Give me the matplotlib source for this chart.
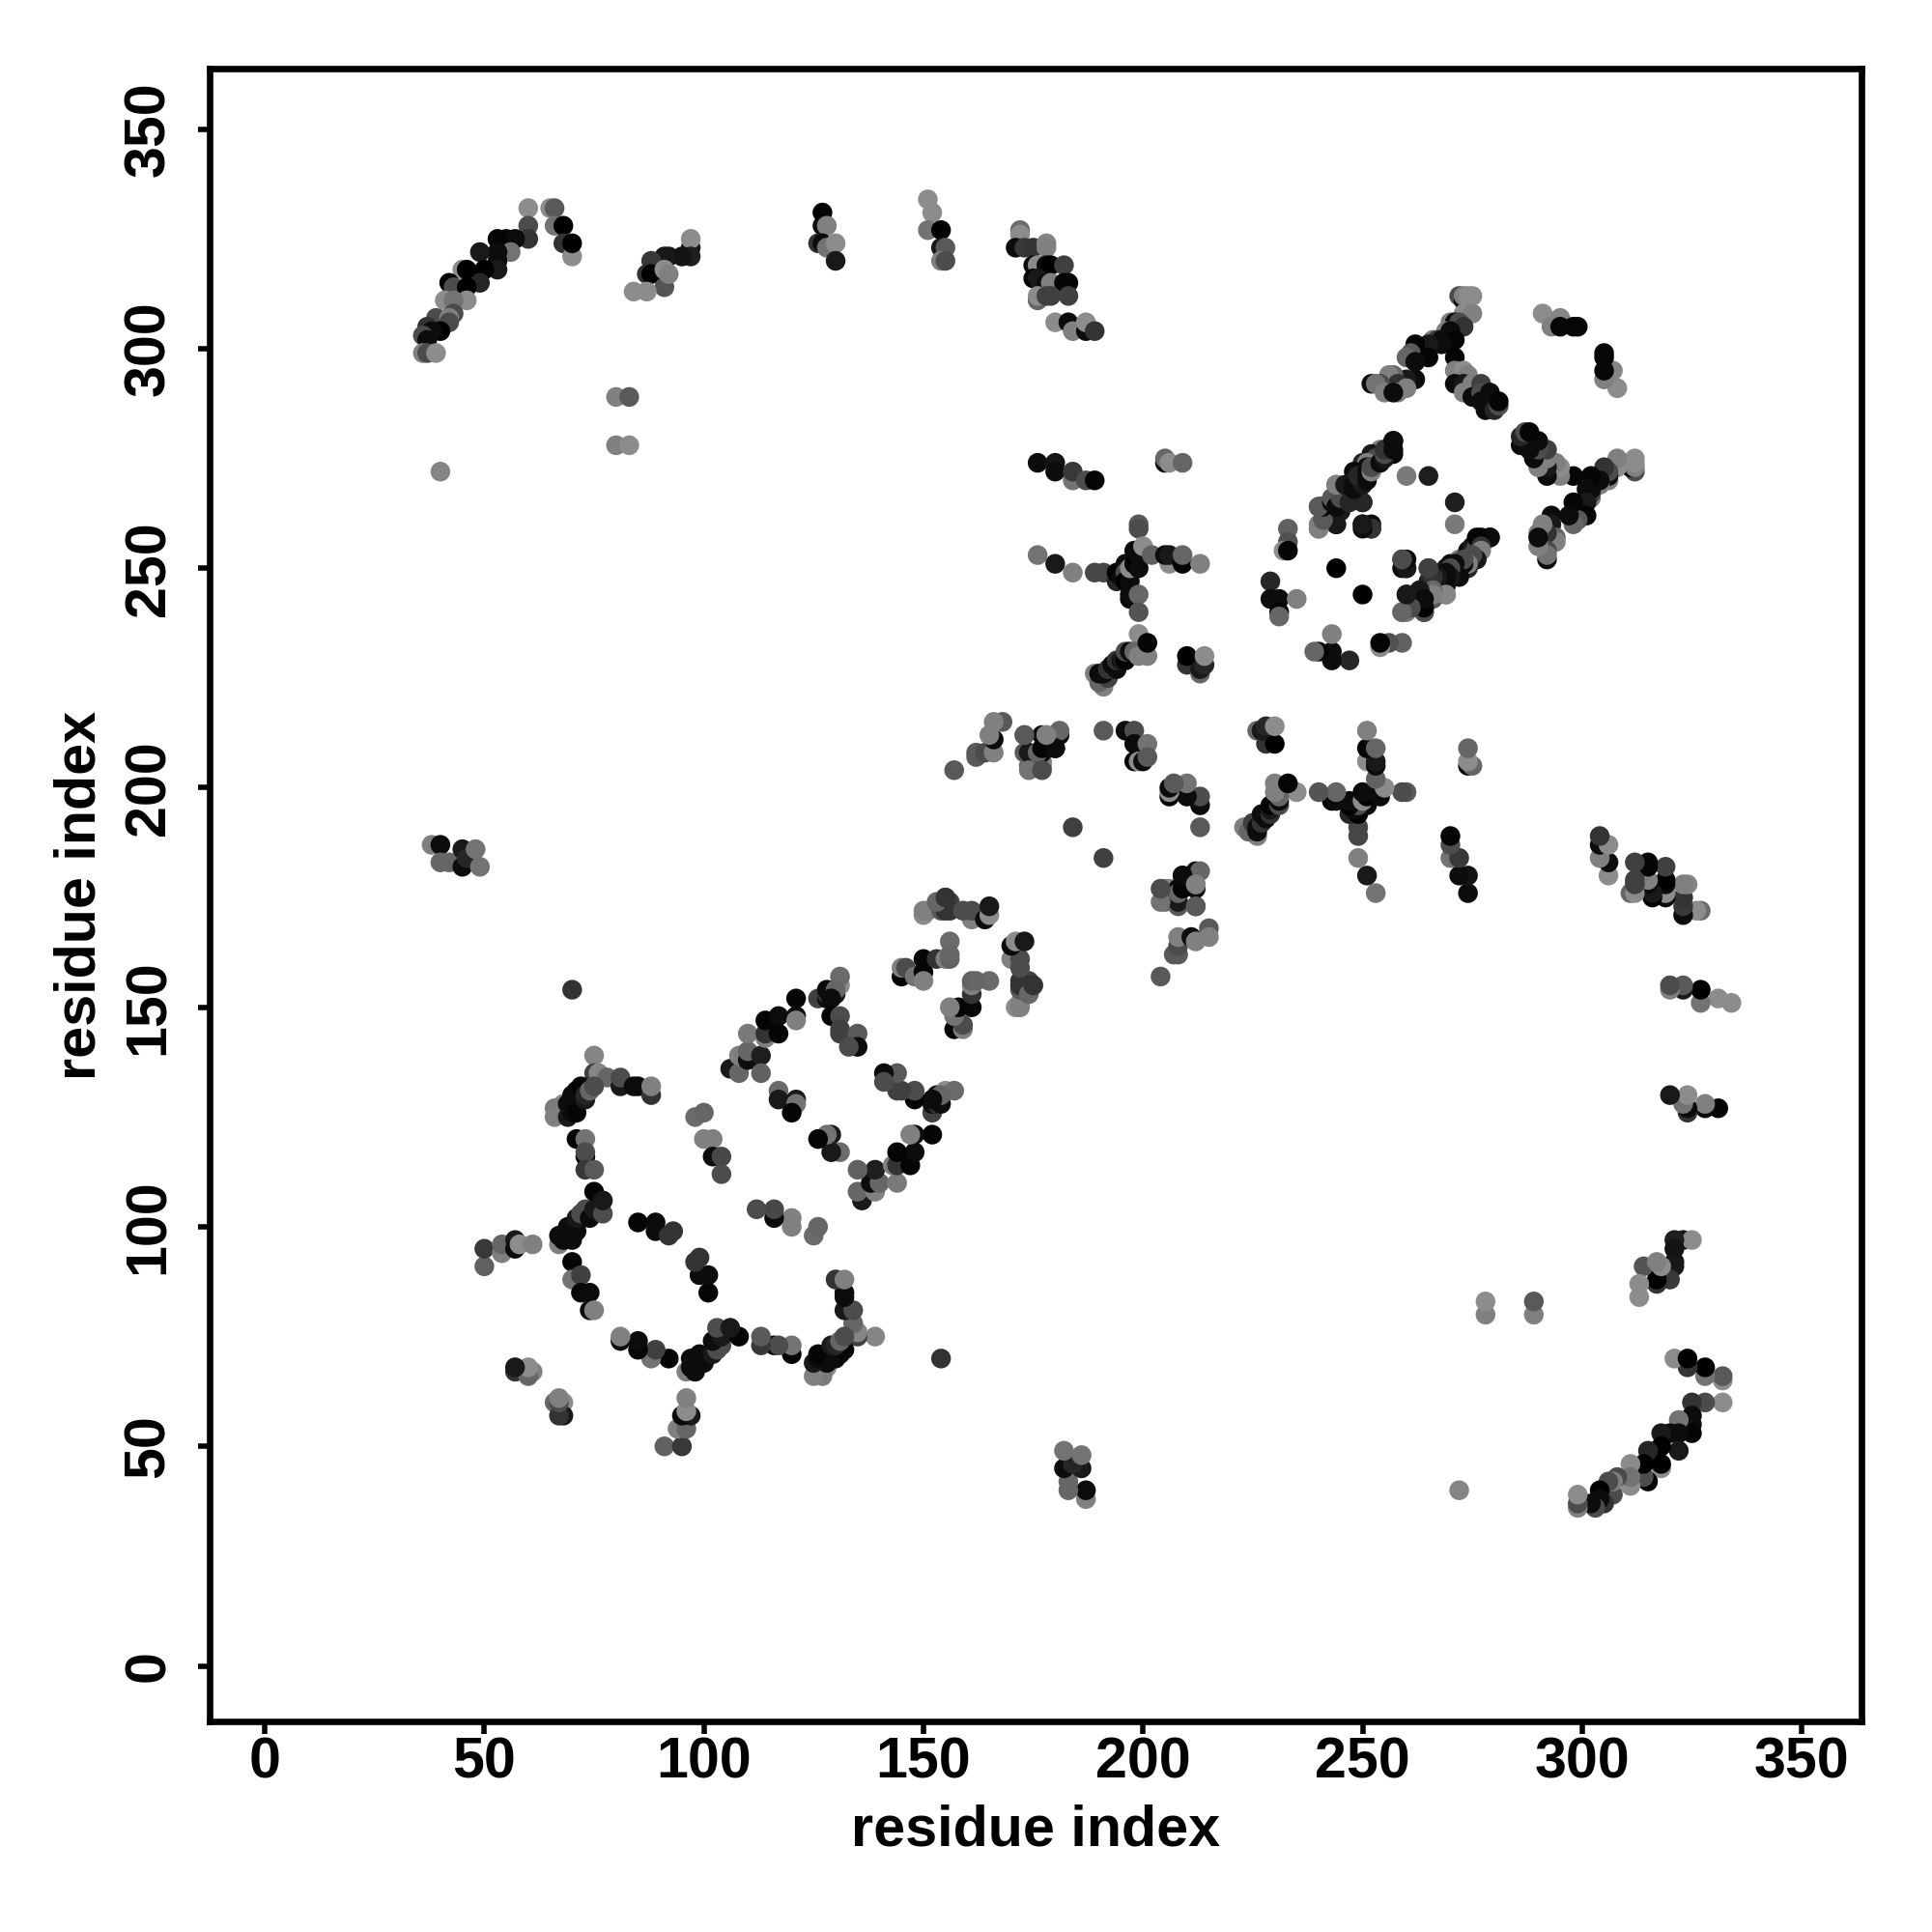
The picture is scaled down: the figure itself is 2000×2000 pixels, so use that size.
import numpy as np
import matplotlib
matplotlib.use('Agg')
import matplotlib.pyplot as plt

plt.rcParams['font.family'] = ['Liberation Sans', 'DejaVu Sans']
plt.rcParams['font.weight'] = 'bold'

# contacts as (residue i, residue j, grey level), only i < j, the map is symmetric
arc_n = [(60, 332, .55), (60, 328, .3), (60, 325, .2), (65, 332, .55), (66, 332, .35), (66, 328, .45),
         (68, 328, 0), (68, 324, .2), (70, 321, .55), (70, 324, 0), (57, 325, .05), (55, 325, .05),
         (53, 325, .02), (56, 322, .45), (53, 322, .05), (49, 322, .1), (53, 320, .05), (53, 318, .1),
         (45, 318, .55), (50, 318, 0), (46, 318, 0), (49, 315, .15), (42, 315, 0), (43, 314, .3),
         (46, 314, 0), (46, 311, .55), (41, 311, .55), (43, 311, .45), (43, 308, .3), (39, 307, .3),
         (42, 307, .5), (42, 306, .3), (40, 304, 0), (37, 305, .2), (38, 304, .05), (36, 303, .3),
         (37, 302, .05), (36, 299, .5), (37, 299, .3), (39, 299, .55)]
arc_b = [(97, 323, .1), (97, 325, .55), (97, 321, .12), (95, 321, .08), (92, 321, .08), (91, 321, .1),
         (88, 320, .22), (87, 317, .2), (88, 317, 0), (91, 314, .33), (91, 318, .55), (92, 317, .5),
         (87, 313, .55), (84, 313, .55)]
pairs_80 = [(80, 289, .5), (83, 289, .35), (80, 278, .5), (83, 278, .55), (40, 272, .52)]
arc_127 = [(127, 331, .02), (127, 328, .05), (128, 328, .5), (126, 324, .2), (127, 324, .05),
           (128, 323, .45), (130, 324, .55), (130, 320, .1)]
arc_151 = [(151, 334, .55), (152, 331, .55), (151, 327, .45), (154, 327, 0), (154, 323, .1),
           (155, 323, .35), (154, 320, .5), (155, 320, .3)]
arc_c = [(172, 327, .42), (172, 326, .55), (171, 323, .05), (173, 323, .22), (175, 323, .2), (178, 324, .52),
         (178, 323, .5), (175, 319, .05), (176, 319, .55), (178, 319, .05), (179, 319, 0), (182, 319, .25),
         (175, 316, 0), (176, 316, .1), (178, 315, .05), (179, 315, .5), (182, 315, .02), (183, 315, .02),
         (176, 311, .4), (176, 312, .55), (178, 312, .25), (179, 312, .25), (183, 312, .25), (180, 306, .55),
         (183, 306, .05), (184, 304, .5), (187, 304, .05), (187, 306, .55), (189, 304, .2)]
row_274 = [(176, 274, .05), (180, 274, .08), (180, 272, .05), (184, 270, .45), (184, 272, .22), (187, 270, .3),
           (189, 270, .02), (205, 274, 0), (205, 275, .4), (206, 274, .55), (209, 274, .4)]
t_250 = [(176, 253, .45), (180, 251, .1), (184, 249, .5), (189, 249, .28), (191, 249, .28), (199, 260, .35),
         (199, 259, .3), (194, 247, .15), (194, 249, 0), (195, 248, .05), (196, 251, .05), (196, 249, .3), (196, 247, 0),
         (197, 243, 0), (197, 244, .05), (197, 247, .05), (197, 250, .55), (198, 251, 0), (199, 250, .05),
         (198, 254, .05), (199, 253, .05), (200, 255, .55), (202, 253, .38), (199, 244, .4), (199, 240, .33),
         (206, 251, .55), (205, 253, .05), (206, 253, .1), (209, 251, .02), (209, 253, .4), (213, 251, .5)]
diag_230 = [(199, 235, .55), (189, 226, .5), (191, 223, .5), (190, 224, .4), (192, 225, .25), (190, 226, .05),
            (191, 226, .05), (192, 227, .2), (193, 228, .05), (194, 227, .05), (194, 229, .2), (195, 229, .1),
            (196, 229, .02), (196, 231, .3), (197, 231, .05), (198, 231, .4), (199, 230, .5), (201, 230, .5),
            (201, 233, .02), (210, 228, .2), (210, 230, 0), (213, 226, .4), (213, 227, .1), (214, 228, .15),
            (214, 230, .55)]
block_205 = [(173, 212, .3), (173, 208, .35), (174, 205, .4), (174, 208, .1), (177, 206, .5), (177, 205, .5),
             (177, 208, .02), (177, 212, .05), (178, 212, .55), (181, 212, .05), (181, 213, .4), (180, 209, .1),
             (191, 213, .35), (196, 213, .05), (198, 213, .3), (198, 210, .05), (198, 206, .02), (199, 206, .55),
             (200, 206, .05), (201, 210, .45), (201, 207, .35), (157, 204, .35), (162, 207, .35), (162, 208, .35),
             (164, 208, .3), (166, 208, .5), (166, 211, .05), (165, 212, .5), (168, 215, .35), (166, 215, .5),
             (184, 191, .25), (176, 205, .05), (176, 208, .4), (174, 204, .45), (177, 204, .3), (177, 209, .02),
             (180, 209, .05), (178, 212, .5), (173, 212, .35)]
mid_diag = [(229, 247, .15), (229, 243, .05), (231, 243, .05), (235, 243, .5), (231, 240, .02), (231, 239, .4),
            (233, 259, .38), (233, 256, .32), (232, 254, .55), (233, 254, .02), (244, 250, 0)]
diag_265 = [(257, 279, .05), (257, 276, .02), (255, 277, .2), (254, 277, .5), (252, 276, .1), (253, 275, .3),
            (250, 274, .15), (251, 274, .5), (251, 273, .05), (252, 273, .3), (248, 272, .05), (249, 271, .05),
            (251, 271, .05), (250, 270, .3), (248, 270, .1), (247, 269, .05), (249, 269, .05), (244, 269, .52),
            (248, 267, .1), (248, 266, .2), (245, 266, .4), (244, 266, .5), (245, 263, .1), (250, 265, .25),
            (240, 264, .3), (241, 264, 0), (243, 264, .05), (240, 260, .5), (241, 261, .3), (240, 259, .4),
            (244, 260, .1), (250, 260, .1), (252, 260, .05), (252, 259, .3), (260, 271, .48), (265, 271, .12),
            (259, 252, .2), (259, 250, .05), (260, 250, .1), (260, 244, .1), (259, 240, .5), (261, 241, .35),
            (264, 241, .02), (264, 240, .35), (265, 243, .05), (266, 243, .35), (264, 244, .05), (266, 245, .3),
            (265, 247, .15), (265, 250, .15), (269, 244, .5), (269, 246, .1), (269, 248, .05), (268, 248, .05),
            (269, 250, .1), (271, 249, .15), (270, 251, .05), (272, 251, .05), (272, 252, .5), (273, 252, .3),
            (274, 254, .05), (275, 255, .1), (276, 255, .3), (277, 255, .2), (277, 257, .05), (279, 257, .05)]
band_300 = [(272, 312, .3), (273, 311, 0), (273, 312, .5), (274, 312, .55), (275, 312, .55), (273, 308, .55),
            (275, 308, .5), (270, 306, .5), (271, 306, .05), (272, 306, .3), (273, 305, .2), (269, 304, .5),
            (270, 304, .05), (266, 302, .5), (267, 302, .25), (268, 302, .05), (271, 302, .02), (268, 301, .05),
            (265, 301, .1), (262, 301, .02), (261, 299, .35), (260, 298, .4), (265, 298, .02), (262, 297, .05),
            (262, 293, .05), (260, 293, .1), (258, 293, .1), (257, 294, .4), (256, 294, .5), (258, 292, .2),
            (254, 292, .3), (252, 292, .05), (253, 292, .45), (260, 291, .5), (255, 290, .5), (258, 290, .5),
            (257, 290, .05), (291, 308, .55), (293, 305, .5), (295, 307, .52), (295, 305, .03), (298, 305, .03),
            (299, 305, .03)]
arm_290 = [(271, 298, .02), (271, 295, .5), (273, 295, .55), (274, 294, .5), (271, 292, .05), (273, 292, .1),
           (273, 290, .5), (275, 292, .5), (277, 292, .25), (275, 289, .05), (277, 290, .3), (277, 288, .05),
           (279, 290, .05), (278, 286, .05), (280, 286, .15), (281, 287, .3), (281, 288, .02)]
low_a = [(38, 187, .5), (40, 187, .05), (40, 183, .4), (42, 183, .4), (45, 182, .05), (45, 186, .1), (46, 184, .15),
         (48, 186, .45), (49, 182, .45), (70, 154, .2), (75, 139, .52), (75, 135, .25), (76, 135, .52),
         (78, 134, .4), (81, 132, .1), (81, 134, .3), (84, 132, .05), (85, 132, .05), (88, 130, .2), (88, 132, .5),
         (68, 128, .55), (66, 127, .48), (66, 125, .5), (69, 128, .05), (71, 128, .05), (69, 125, .1), (70, 126, .05),
         (71, 126, .02), (70, 130, .05), (71, 131, .05), (72, 132, .02), (73, 129, .1), (73, 130, .15), (74, 131, .4),
         (75, 132, .3), (71, 120, .02), (73, 120, .45), (73, 116, .02), (73, 117, .3), (73, 113, .22), (75, 113, .35)]
low_b = [(67, 96, .5), (67, 98, .05), (68, 97, .05), (70, 97, .05), (69, 100, .05), (71, 99, .05), (71, 102, .1),
         (73, 104, .3), (72, 103, .3), (74, 102, .05), (75, 104, .1), (75, 108, .02), (77, 103, .3), (77, 106, .1),
         (70, 92, .02), (70, 88, .45), (72, 89, .25), (72, 85, .03), (74, 85, .05), (74, 81, .05), (75, 81, .5),
         (50, 91, .38), (50, 95, .22), (54, 94, .5), (54, 96, .4), (57, 97, .1), (57, 95, .05), (58, 96, .55),
         (61, 96, .5), (85, 101, .02), (89, 99, .05), (89, 101, .05), (92, 98, .2), (93, 99, .2),
         (57, 67, .2), (60, 67, .3), (61, 67, .5), (66, 60, .4), (68, 60, .55), (68, 57, .1)]
low_c = [(98, 125, .42), (100, 126, .4), (100, 120, .5), (102, 120, .5), (102, 116, .05), (104, 116, .28),
         (104, 112, .3), (106, 136, .1), (108, 135, .4), (108, 139, .5), (110, 138, .05), (110, 140, .4), (110, 144, .48),
         (113, 139, .12), (113, 135, .38), (114, 143, .5), (114, 144, .2), (114, 147, .02), (117, 148, .05),
         (117, 144, .02), (121, 152, .02), (121, 148, .05), (121, 147, .5), (126, 152, .25), (128, 152, .05),
         (128, 153, .2), (129, 153, .5), (130, 153, .1), (131, 155, .55), (131, 157, .42), (128, 154, .05),
         (130, 154, .4), (129, 152, .05), (129, 148, .02), (131, 148, .3), (131, 144, .25), (131, 145, .25),
         (135, 144, .35), (135, 141, .05), (133, 141, .3), (117, 131, .42), (117, 129, .1), (121, 129, .1),
         (121, 128, .45), (120, 126, .02)]
low_d = [(145, 157, .02), (145, 159, .5), (146, 159, .3), (148, 157, .45), (150, 158, .02), (150, 156, .5),
         (150, 161, .03), (153, 161, .2), (155, 161, .5), (156, 161, .38), (156, 165, .42), (156, 162, .4),
         (150, 171, .55), (150, 172, .5), (151, 172, .5), (154, 172, .35), (155, 175, .45), (155, 174, .2),
         (156, 174, .25), (156, 172, .2), (161, 170, .5), (161, 172, .3), (164, 170, .05), (165, 171, .55),
         (165, 173, .1), (155, 172, .2), (159, 172, .3), (153, 174, .4), (155, 175, .2)]

groups = [arc_n, arc_b, pairs_80, arc_127, arc_151, arc_c, row_274, t_250, diag_230, block_205,
          mid_diag, diag_265, band_300, arm_290, low_a, low_b, low_c, low_d]
res_i = np.array([c[0] for g in groups for c in g])
res_j = np.array([c[1] for g in groups for c in g])
level = np.array([c[2] for g in groups for c in g])

xticks = [0, 50, 100, 150, 200, 250, 300, 350]

fig = plt.figure(figsize=(10, 10), dpi=200)
ax = fig.add_axes([0.1084, 0.1091, 0.8553, 0.8552])
ax.scatter(np.r_[res_i, res_j], np.r_[res_j, res_i], c=np.r_[level, level], cmap='gray',
           vmin=0, vmax=1, s=54, linewidths=0)
ax.set_xlim(-12.6, 363.7)
ax.set_ylim(-12.6, 363.7)
ax.set_xticks(xticks)
ax.set_yticks(xticks)
ax.tick_params(axis='x', length=4.5, width=2, labelsize=21.3, pad=1)
ax.tick_params(axis='y', length=4.5, width=2, labelsize=21.3, pad=8)
plt.setp(ax.get_yticklabels(), rotation=90, va='center')
for s in ax.spines.values():
    s.set_linewidth(2.4)
ax.set_xlabel('residue index', fontsize=21.4, fontweight='bold', labelpad=5.5)
ax.set_ylabel('residue index', fontsize=21.4, fontweight='bold', labelpad=6)

fig.savefig('out.png', dpi=200, facecolor='white')
